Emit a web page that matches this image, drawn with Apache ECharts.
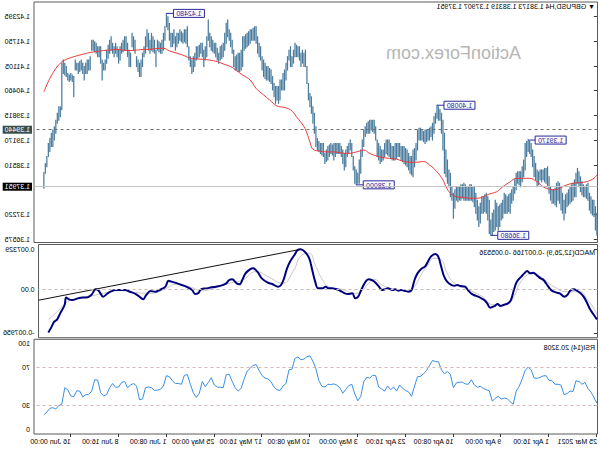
<!DOCTYPE html>
<html><head><meta charset="utf-8">
<script src="https://cdn.jsdelivr.net/npm/echarts@6/dist/echarts.min.js"></script>
<style>html,body{margin:0;padding:0;background:#fff;overflow:hidden}#c{width:600px;height:450px;transform:scaleX(-1);}</style>
</head><body><div id="c"></div>
<script>
// ---- DATA (GBPUSD H4, 25 Mar 2021 08:00 .. 18 Jun 2021) ----
const barHigh = [
1.3726,1.3743,1.3760,1.3760,1.3769,1.3778,1.3804,1.3800,1.3795,1.3800,
1.3808,1.3821,1.3834,1.3843,1.3830,1.3813,1.3804,1.3800,1.3795,1.3787,
1.3778,1.3774,1.3760,1.3778,1.3795,1.3804,1.3808,1.3804,1.3791,1.3787,
1.3787,1.3795,1.3821,1.3847,1.3843,1.3843,1.3839,1.3839,1.3839,1.3834,
1.3839,1.3856,1.3874,1.3891,1.3908,1.3913,1.3917,1.3913,1.3908,1.3865,
1.3847,1.3834,1.3834,1.3834,1.3830,1.3813,1.3795,1.3787,1.3778,1.3774,
1.3769,1.3774,1.3778,1.3760,1.3752,1.3747,1.3743,1.3752,1.3760,1.3734,
1.3726,1.3708,1.3760,1.3769,1.3778,1.3774,1.3769,1.3769,1.3752,1.3743,
1.3760,1.3778,1.3795,1.3795,1.3800,1.3800,1.3795,1.3795,1.3800,1.3804,
1.3800,1.3800,1.3795,1.3795,1.3795,1.3787,1.3778,1.3795,1.3830,1.3839,
1.3865,1.3891,1.3935,1.3969,1.3987,1.3996,1.4004,1.4008,1.3987,1.3978,
1.3961,1.3952,1.3948,1.3943,1.3943,1.3943,1.3939,1.3943,1.3948,1.3948,
1.3943,1.3908,1.3895,1.3891,1.3874,1.3874,1.3882,1.3891,1.3895,1.3900,
1.3900,1.3900,1.3908,1.3908,1.3908,1.3908,1.3900,1.3900,1.3908,1.3917,
1.3917,1.3917,1.3908,1.3891,1.3891,1.3900,1.3908,1.3917,1.3952,1.3969,
1.3969,1.3969,1.3969,1.3965,1.3961,1.3952,1.3943,1.3917,1.3891,1.3865,
1.3830,1.3839,1.3847,1.3874,1.3908,1.3917,1.3908,1.3900,1.3891,1.3882,
1.3891,1.3900,1.3908,1.3908,1.3908,1.3908,1.3908,1.3904,1.3908,1.3904,
1.3900,1.3891,1.3882,1.3908,1.3908,1.3908,1.3913,1.3921,1.3952,1.3987,
1.4004,1.4030,1.4039,1.4065,1.4109,1.4152,1.4144,1.4152,1.4144,1.4161,
1.4161,1.4165,1.4170,1.4152,1.4135,1.4161,1.4152,1.4135,1.4118,1.4100,
1.4091,1.4074,1.4074,1.4057,1.4057,1.4057,1.4065,1.4083,1.4100,1.4104,
1.4109,1.4109,1.4118,1.4126,1.4135,1.4161,1.4170,1.4187,1.4213,1.4213,
1.4209,1.4205,1.4205,1.4200,1.4196,1.4192,1.4187,1.4187,1.4152,1.4144,
1.4144,1.4139,1.4135,1.4152,1.4178,1.4196,1.4205,1.4231,1.4222,1.4196,
1.4170,1.4165,1.4161,1.4144,1.4157,1.4170,1.4170,1.4178,1.4187,1.4196,
1.4231,1.4187,1.4161,1.4152,1.4170,1.4170,1.4165,1.4161,1.4161,1.4144,
1.4135,1.4126,1.4135,1.4161,1.4213,1.4205,1.4205,1.4196,1.4200,1.4205,
1.4196,1.4196,1.4187,1.4205,1.4196,1.4196,1.4222,1.4239,1.4248,1.4213,
1.4196,1.4178,1.4170,1.4174,1.4178,1.4152,1.4178,1.4187,1.4196,1.4178,
1.4196,1.4205,1.4187,1.4161,1.4144,1.4126,1.4118,1.4126,1.4135,1.4178,
1.4187,1.4196,1.4144,1.4152,1.4170,1.4187,1.4187,1.4178,1.4170,1.4161,
1.4152,1.4161,1.4170,1.4161,1.4170,1.4187,1.4178,1.4165,1.4152,1.4126,
1.4118,1.4126,1.4161,1.4161,1.4161,1.4170,1.4174,1.4178,1.4178,1.4135,
1.4126,1.4126,1.4118,1.4109,1.4118,1.4126,1.4122,1.4118,1.4118,1.4126,
1.4083,1.4087,1.4091,1.4087,1.4091,1.4109,1.4118,1.4126,1.4118,1.4004,
1.4004,1.3987,1.3969,1.3952,1.3943,1.3935,1.3921,1.3908,1.3874,1.3856,
1.3832];
const barLow = [
1.3669,1.3682,1.3717,1.3721,1.3726,1.3734,1.3760,1.3765,1.3769,1.3769,
1.3774,1.3782,1.3795,1.3804,1.3769,1.3769,1.3760,1.3756,1.3752,1.3747,
1.3743,1.3726,1.3708,1.3726,1.3734,1.3752,1.3760,1.3743,1.3747,1.3752,
1.3752,1.3760,1.3778,1.3795,1.3804,1.3808,1.3813,1.3808,1.3813,1.3800,
1.3795,1.3813,1.3821,1.3847,1.3874,1.3882,1.3887,1.3874,1.3839,1.3821,
1.3808,1.3795,1.3800,1.3804,1.3787,1.3778,1.3760,1.3752,1.3726,1.3730,
1.3726,1.3726,1.3726,1.3713,1.3708,1.3691,1.3682,1.3691,1.3682,1.3678,
1.3669,1.3668,1.3673,1.3708,1.3726,1.3730,1.3726,1.3726,1.3700,1.3691,
1.3708,1.3726,1.3743,1.3756,1.3760,1.3760,1.3760,1.3760,1.3760,1.3760,
1.3765,1.3760,1.3760,1.3756,1.3760,1.3739,1.3713,1.3760,1.3769,1.3795,
1.3804,1.3821,1.3830,1.3891,1.3935,1.3969,1.3969,1.3974,1.3961,1.3935,
1.3917,1.3926,1.3917,1.3917,1.3913,1.3908,1.3913,1.3917,1.3917,1.3917,
1.3891,1.3865,1.3847,1.3821,1.3826,1.3830,1.3839,1.3847,1.3852,1.3856,
1.3861,1.3865,1.3874,1.3874,1.3869,1.3865,1.3865,1.3865,1.3869,1.3874,
1.3878,1.3882,1.3874,1.3865,1.3861,1.3856,1.3865,1.3874,1.3917,1.3935,
1.3939,1.3943,1.3935,1.3935,1.3935,1.3926,1.3900,1.3874,1.3830,1.3804,
1.3804,1.3800,1.3804,1.3839,1.3874,1.3891,1.3882,1.3874,1.3847,1.3839,
1.3856,1.3874,1.3882,1.3882,1.3882,1.3874,1.3865,1.3878,1.3882,1.3874,
1.3865,1.3861,1.3856,1.3874,1.3878,1.3882,1.3887,1.3891,1.3900,1.3935,
1.3961,1.3987,1.4004,1.4022,1.4065,1.4109,1.4109,1.4118,1.4109,1.4126,
1.4135,1.4135,1.4135,1.4118,1.4109,1.4109,1.4126,1.4100,1.4074,1.4048,
1.4048,1.4048,1.4022,1.4013,1.4022,1.4013,1.4030,1.4048,1.4065,1.4070,
1.4074,1.4074,1.4078,1.4083,1.4100,1.4126,1.4135,1.4144,1.4170,1.4178,
1.4178,1.4178,1.4170,1.4165,1.4161,1.4157,1.4152,1.4109,1.4100,1.4096,
1.4096,1.4100,1.4100,1.4109,1.4144,1.4161,1.4178,1.4187,1.4170,1.4152,
1.4135,1.4131,1.4126,1.4118,1.4126,1.4135,1.4144,1.4148,1.4152,1.4161,
1.4178,1.4135,1.4126,1.4109,1.4135,1.4144,1.4135,1.4131,1.4126,1.4109,
1.4096,1.4091,1.4109,1.4126,1.4161,1.4170,1.4174,1.4170,1.4174,1.4178,
1.4170,1.4161,1.4152,1.4170,1.4161,1.4161,1.4178,1.4205,1.4213,1.4178,
1.4152,1.4144,1.4144,1.4148,1.4152,1.4109,1.4144,1.4148,1.4152,1.4144,
1.4152,1.4161,1.4144,1.4135,1.4109,1.4083,1.4083,1.4096,1.4109,1.4144,
1.4152,1.4161,1.4109,1.4109,1.4135,1.4152,1.4152,1.4148,1.4144,1.4126,
1.4118,1.4135,1.4144,1.4135,1.4144,1.4152,1.4144,1.4131,1.4118,1.4100,
1.4100,1.4074,1.4118,1.4135,1.4135,1.4144,1.4148,1.4152,1.4152,1.4100,
1.4100,1.4091,1.4091,1.4074,1.4091,1.4100,1.4096,1.4091,1.4100,1.4100,
1.4030,1.4070,1.4074,1.4070,1.4074,1.4083,1.4087,1.4091,1.3996,1.3978,
1.3969,1.3961,1.3935,1.3917,1.3900,1.3900,1.3887,1.3874,1.3847,1.3830,
1.3791];
const maIdx = [0,2,7,11,16,20,25,28,31,36,40,45,49,54,58,63,67,72,76,80,85,89,94,98,101,103,107,112,116,121,125,130,134,138,143,147,152,156,159,163,167,172,176,181,185,190,192,194,196,201,205,210,214,219,223,228,232,237,241,245,250,254,259,263,268,272,277,281,286,290,295,299,303,308,312,317,321,326,330,335,339,344,348,353,357,359,362,366,370];
const maVal = [1.3826,1.3817,1.3808,1.3806,1.3804,1.3800,1.3791,1.3787,1.3788,1.3795,1.3808,1.3817,1.3817,1.3817,1.3808,1.3795,1.3782,1.3776,1.3769,1.3765,1.3765,1.3767,1.3769,1.3778,1.3795,1.3813,1.3834,1.3852,1.3861,1.3859,1.3859,1.3862,1.3867,1.3869,1.3871,1.3875,1.3882,1.3891,1.3888,1.3884,1.3882,1.3884,1.3886,1.3886,1.3888,1.3893,1.3912,1.3935,1.3952,1.3978,1.3996,1.4003,1.4006,1.4022,1.4035,1.4052,1.4074,1.4087,1.4098,1.4109,1.4116,1.4122,1.4126,1.4128,1.4129,1.4131,1.4139,1.4144,1.4150,1.4157,1.4156,1.4154,1.4154,1.4152,1.4151,1.4152,1.4154,1.4152,1.4151,1.4148,1.4146,1.4141,1.4137,1.4131,1.4124,1.4118,1.4104,1.4078,1.4043];
const zzIdx = [288,107,46,161,71];
const zzPrice = [1.42480,1.40080,1.39170,1.38000,1.36680];
const zzText = ['1.42480','1.40080','1.39170','1.38000','1.36680'];
const levelPrice = 1.39440;
const bidPrice = 1.37951;
const priceTicks = [1.36575,1.37220,1.38510,1.39170,1.39815,1.40460,1.41105,1.41750,1.42395];

const macdIdx = [0,2,5,7,9,11,14,16,18,20,22,25,27,29,31,34,36,38,40,43,45,47,49,51,54,56,58,60,63,65,67,69,72,74,76,78,80,83,85,87,89,92,94,96,98,101,103,105,107,109,112,114,116,118,121,123,125,127,130,132,134,136,138,141,143,145,147,150,152,154,156,159,161,163,165,168,170,172,174,176,179,181,183,185,188,190,192,194,197,200,202,204,207,209,211,213,215,219,222,226,229,232,234,237,239,241,243,246,248,250,253,257,260,263,267,269,271,273,277,280,283,287,289,291,295,298,301,304,306,308,311,315,318,321,325,328,330,333,336,338,341,344,347,350,354,356,358,359,362,364,366,368,370];
const macdVal = [-0.00550,-0.00470,-0.00348,-0.00226,-0.00134,-0.00073,-0.00012,0.00000,-0.00024,-0.00104,-0.00134,-0.00073,-0.00061,-0.00043,-0.00012,0.00098,0.00171,0.00202,0.00244,0.00306,0.00293,0.00336,0.00293,0.00232,0.00141,-0.00012,-0.00196,-0.00257,-0.00287,-0.00306,-0.00269,-0.00306,-0.00336,-0.00257,-0.00196,-0.00165,-0.00134,-0.00104,-0.00073,-0.00012,0.00049,0.00061,0.00079,0.00067,0.00079,0.00141,0.00232,0.00415,0.00599,0.00648,0.00599,0.00507,0.00415,0.00385,0.00293,0.00171,-0.00012,-0.00043,-0.00024,-0.00012,-0.00024,0.00000,-0.00012,0.00018,0.00000,-0.00012,0.00049,0.00141,0.00171,0.00183,0.00141,-0.00012,-0.00134,-0.00165,-0.00073,-0.00086,-0.00073,-0.00043,-0.00012,0.00006,0.00018,0.00018,0.00049,0.00018,0.00018,0.00141,0.00354,0.00568,0.00690,0.007329,0.00715,0.00629,0.00507,0.00385,0.00202,0.00079,0.00049,0.00098,0.00122,0.00202,0.00324,0.00385,0.00367,0.00293,0.00183,0.00092,0.00110,0.00183,0.00171,0.00110,0.00073,0.00049,0.00037,0.00018,0.00000,-0.00073,-0.00086,-0.00012,0.00049,0.00079,0.00110,0.00141,0.00159,0.00049,-0.00012,-0.00043,-0.00031,-0.00104,-0.00183,-0.00147,-0.00086,-0.00043,-0.00012,-0.00012,-0.00012,-0.00043,-0.00073,-0.00134,-0.00024,0.00000,-0.00104,-0.00147,-0.00147,-0.00165,-0.00196,-0.00183,-0.00147,-0.00287,-0.00440,-0.00550,-0.00593,-0.00697,-0.00790];
const sigIdx = [0,2,7,11,20,29,38,43,47,52,56,60,69,78,87,96,101,105,110,114,118,123,127,136,145,150,154,159,163,172,181,185,190,194,199,205,212,221,230,239,248,257,266,275,283,292,301,310,321,333,341,350,357,364,370];
const sigVal = [-0.00470,-0.00348,-0.00165,-0.00043,-0.00043,0.00049,0.00232,0.00293,0.00263,0.00110,-0.00134,-0.00257,-0.00287,-0.00122,0.00000,0.00110,0.00293,0.00538,0.00568,0.00446,0.00293,0.00049,-0.00024,0.00000,0.00079,0.00183,0.00110,-0.00043,-0.00073,0.00000,0.00049,0.00171,0.00446,0.00660,0.00629,0.00324,0.00110,0.00220,0.00324,0.00171,0.00110,0.00031,-0.00024,0.00049,0.00098,0.00000,-0.00073,-0.00061,-0.00024,-0.00073,-0.00122,-0.00165,-0.00226,-0.00409,-0.005536];
const trendIdx = [200,376.6];
const trendVal = [0.007329,-0.00199];
const macdTicks = [-0.007956,0,0.007329];

const RSI_STEP = 2; // one RSI reading every 2nd bar, from bar 0
const rsiVal = [32.5,38.7,44.2,48.2,54.4,52.5,55.5,56.2,44.9,45.3,42.7,41.6,51.5,52.5,52.5,56.2,56.5,61.6,61.3,59.8,
58.7,59.1,67.8,70.7,67.1,58.0,50.4,45.3,31.5,34.0,37.3,38.0,36.9,39.8,37.6,34.7,45.6,46.7,48.2,50.4,
49.3,51.8,57.3,52.5,52.9,54.7,54.7,54.0,48.9,62.7,66.0,63.5,67.8,76.2,76.5,77.6,72.2,67.1,63.5,60.9,
60.5,50.7,39.8,44.5,46.0,48.2,51.8,45.3,49.6,46.7,50.7,45.3,47.5,49.6,61.6,62.0,59.1,59.8,55.1,39.5,
35.1,42.4,52.5,51.1,47.1,43.1,48.9,51.5,52.9,52.2,52.5,49.6,50.4,56.2,68.9,76.9,82.4,81.6,79.1,78.4,
81.3,79.8,68.5,67.8,53.3,50.7,46.0,46.7,49.6,55.1,58.0,59.1,61.6,67.1,73.3,72.5,69.3,66.4,58.0,48.2,
45.3,48.9,55.5,63.1,62.7,48.9,49.3,49.6,51.8,59.5,54.4,50.0,55.5,43.1,38.7,43.5,52.5,62.7,62.0,52.5,
53.3,53.3,56.2,60.5,61.6,50.7,47.1,46.4,46.0,48.9,49.6,48.9,36.9,36.2,50.7,53.3,51.8,48.9,55.5,54.4,
49.6,49.3,53.3,48.9,41.6,40.2,43.5,56.9,57.3,45.3,41.6,41.6,39.1,45.3,45.6,39.5,40.2,46.7,48.9,31.5,
30.0,26.4,27.8,27.1,23.1,20.3];
const rsiLevels = [70,30];

const timeIdx = [0,32,64,96,128,160,192,224,256,288,320,352];
const timeLabels = ['25 Mar 2021','1 Apr 16:00','9 Apr 00:00','16 Apr 08:00','23 Apr 16:00','3 May 00:00','10 May 08:00','17 May 16:00','25 May 00:00','1 Jun 08:00','8 Jun 16:00','16 Jun 00:00'];

const headerText = '\u25BC GBPUSD,H4 1.38173 1.38319 1.37907 1.37951';
const macdText = 'MACD(12,26,9) -0.007166 -0.005536';
const rsiText = 'RSI(14) 20.3208';
const watermark = 'ActionForex.com';

// ---- CHART ----
const FONT = '"Liberation Sans", Arial, sans-serif';
const BAR_COLOR = '#4b7c9e';
const ZZ_COLOR = '#2a2a9c';
const X_MIN = -0.4, X_MAX = 376.6;
const chart = echarts.init(document.getElementById('c'), null, {renderer: 'svg', width: 600, height: 450});

function xAx(g, extra) {
  return Object.assign({gridIndex: g, type: 'value', min: X_MIN, max: X_MAX,
    axisLine: {show: false}, axisTick: {show: false}, axisLabel: {show: false}, splitLine: {show: false}}, extra || {});
}
const lbl = {fontFamily: FONT, fontSize: 7, color: '#000'};
const gridStyle = {show: true, borderColor: '#5a5a5a', borderWidth: 1, backgroundColor: '#fff'};
const levelLabel = (bg, val) => ({show: true, position: 'end', distance: 2, formatter: () => val.toFixed(5),
  backgroundColor: bg, color: '#fff', fontFamily: FONT, fontSize: 7, padding: [1, 2, 0, 2]});

const option = {
  animation: false,
  backgroundColor: '#fff',
  grid: [
    Object.assign({left: 2.5, right: 34, top: 2, height: 240.5}, gridStyle),
    Object.assign({left: 2.5, right: 34, top: 244.5, height: 93.2}, gridStyle),
    Object.assign({left: 2.5, right: 34, top: 339.3, height: 94.7}, gridStyle)
  ],
  xAxis: [
    xAx(0), xAx(1),
    xAx(2, {
      axisLabel: Object.assign({show: true, customValues: timeIdx, align: 'left', margin: 4,
        formatter: v => { const k = timeIdx.indexOf(v); return k >= 0 ? timeLabels[k] : ''; }}, lbl),
      axisTick: {show: true, customValues: timeIdx, length: 3, lineStyle: {color: '#333'}}
    })
  ],
  yAxis: [
    {gridIndex: 0, type: 'value', position: 'right', min: 1.36493, max: 1.42778, splitLine: {show: false},
      axisLine: {show: false},
      axisTick: {show: true, customValues: priceTicks, length: 3, lineStyle: {color: '#333'}},
      axisLabel: Object.assign({customValues: priceTicks, margin: 4, formatter: v => v.toFixed(5)}, lbl)},
    {gridIndex: 1, type: 'value', position: 'right', min: -0.00886, max: 0.00822, splitLine: {show: false},
      axisLine: {show: false},
      axisTick: {show: true, customValues: macdTicks, length: 3, lineStyle: {color: '#333'}},
      axisLabel: Object.assign({customValues: macdTicks, margin: 4,
        formatter: v => (v === 0 ? '0.00' : v.toFixed(6))}, lbl)},
    {gridIndex: 2, type: 'value', position: 'right', min: 0, max: 100, splitLine: {show: false},
      axisLine: {show: false},
      axisTick: {show: true, customValues: rsiLevels, length: 3, lineStyle: {color: '#333'}},
      axisLabel: Object.assign({customValues: rsiLevels, margin: 4}, lbl)},
    {gridIndex: 2, type: 'value', position: 'right', min: 0, max: 100, splitLine: {show: false},
      axisLine: {show: false}, axisTick: {show: false},
      axisLabel: Object.assign({customValues: [100], margin: 4, verticalAlign: 'top', padding: [1, 0, 0, 0]}, lbl)},
    {gridIndex: 2, type: 'value', position: 'right', min: 0, max: 100, splitLine: {show: false},
      axisLine: {show: false}, axisTick: {show: false},
      axisLabel: Object.assign({customValues: [0], margin: 4, verticalAlign: 'bottom', padding: [0, 0, 1, 0]}, lbl)}
  ],
  graphic: [
    {type: 'text', left: 5, top: 3, style: {text: headerText, font: '7px ' + FONT, fill: '#000'}},
    {type: 'text', left: 79, top: 44, z: 0, style: {text: watermark, font: '18px ' + FONT, fill: '#b6b6b6'}},
    {type: 'text', left: 5, top: 248.5, style: {text: macdText, font: '7px ' + FONT, fill: '#000'}},
    {type: 'text', left: 5, top: 344, style: {text: rsiText, font: '7px ' + FONT, fill: '#000'}}
  ],
  series: [
    { // OHLC bars (high-low)
      type: 'custom', xAxisIndex: 0, yAxisIndex: 0, z: 2,
      data: barHigh.map((h, i) => [i, barLow[i], h]),
      renderItem: (params, api) => {
        const x = api.value(0);
        const lo = api.coord([x, api.value(1)]);
        const hi = api.coord([x, api.value(2)]);
        return {type: 'line', shape: {x1: lo[0], y1: lo[1] + 0.5, x2: hi[0], y2: hi[1] - 0.5},
          style: {stroke: BAR_COLOR, lineWidth: 1.25}};
      }
    },
    { // moving average + horizontal price levels
      type: 'line', xAxisIndex: 0, yAxisIndex: 0, z: 3, showSymbol: false, smooth: 0.4,
      data: maIdx.map((x, k) => [x, maVal[k]]),
      lineStyle: {color: '#e8393b', width: 1},
      markLine: {symbol: 'none', silent: true, animation: false, precision: 5, data: [
        {yAxis: levelPrice, lineStyle: {color: '#6e6e6e', type: [3, 3], width: 1}, label: levelLabel('#35504e', levelPrice)},
        {yAxis: bidPrice, lineStyle: {color: '#c4c4c4', type: 'solid', width: 1}, label: levelLabel('#000', bidPrice)}
      ]}
    },
    { // zigzag labels
      type: 'custom', xAxisIndex: 0, yAxisIndex: 0, z: 4,
      data: zzIdx.map((x, k) => [x, zzPrice[k]]),
      renderItem: (params, api) => {
        const p = api.coord([api.value(0), api.value(1)]);
        const gap = 7, w = 31, h = 8;
        return {type: 'group', children: [
          {type: 'line', shape: {x1: p[0], y1: p[1], x2: p[0] - gap, y2: p[1]}, style: {stroke: ZZ_COLOR, lineWidth: 1}},
          {type: 'rect', shape: {x: p[0] - gap - w, y: p[1] - h / 2, width: w, height: h},
            style: {fill: '#fbfbff', stroke: ZZ_COLOR, lineWidth: 1}},
          {type: 'text', style: {text: zzText[params.dataIndex], x: p[0] - gap - w / 2, y: p[1] + 0.5,
            align: 'center', verticalAlign: 'middle', font: '7px ' + FONT, fill: ZZ_COLOR}}
        ]};
      }
    },
    { // MACD signal
      type: 'line', xAxisIndex: 1, yAxisIndex: 1, showSymbol: false, smooth: 0.5, z: 2,
      data: sigIdx.map((x, k) => [x, sigVal[k]]),
      lineStyle: {color: '#c6c6c6', width: 1},
      markLine: {symbol: 'none', silent: true, data: [{yAxis: 0}], label: {show: false},
        lineStyle: {color: '#cdb8b8', type: [3, 3], width: 1}}
    },
    { // MACD main
      type: 'line', xAxisIndex: 1, yAxisIndex: 1, showSymbol: false, smooth: 0.35, z: 3,
      data: macdIdx.map((x, k) => [x, macdVal[k]]),
      lineStyle: {color: '#00007f', width: 2}
    },
    { // trend line on MACD
      type: 'line', xAxisIndex: 1, yAxisIndex: 1, showSymbol: false, z: 4,
      data: trendIdx.map((x, k) => [x, trendVal[k]]),
      lineStyle: {color: '#111', width: 1}
    },
    { // RSI
      type: 'line', xAxisIndex: 2, yAxisIndex: 2, showSymbol: false, z: 3,
      data: rsiVal.map((v, k) => [k * RSI_STEP, v]),
      lineStyle: {color: '#3a8ee6', width: 1},
      markLine: {symbol: 'none', silent: true, label: {show: false},
        data: rsiLevels.map(v => ({yAxis: v})),
        lineStyle: {color: '#d6b6b6', type: [3, 3], width: 1}}
    }
  ]
};
chart.setOption(option);
</script></body></html>
